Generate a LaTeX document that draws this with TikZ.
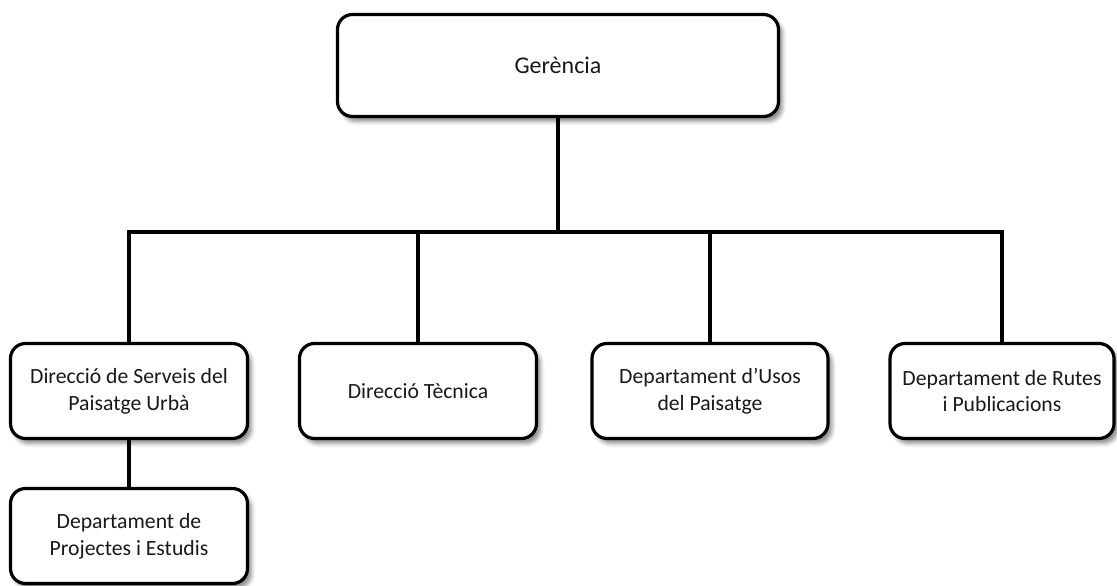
\documentclass[tikz,border=0pt]{standalone}
\usepackage{fontspec}
\setmainfont{Carlito}
\usetikzlibrary{shadows.blur}
\tikzset{
  orgbox/.style={draw=black, line width=3.2pt, fill=white, rounded corners=15pt,
    align=center, inner sep=0pt, text=black!90,
    font=\fontsize{21.7}{26.7}\selectfont,
    blur shadow={shadow xshift=4pt, shadow yshift=-5pt, shadow blur radius=4pt, shadow opacity=45}},
  link/.style={draw=black, line width=3.1pt}
}
\begin{document}
\begin{tikzpicture}[x=1pt,y=-1pt]
\useasboundingbox (0,0) rectangle (1117,586);
\node[orgbox, minimum width=441pt, minimum height=102pt, font=\fontsize{24}{29}\selectfont] (ger) at (558,65.5) {Gerència};
\node[orgbox, minimum width=237pt, minimum height=95pt] (b1) at (129,391) {Direcció de Serveis del\\Paisatge Urbà};
\node[orgbox, minimum width=237pt, minimum height=95pt] (b2) at (418,391) {Direcció Tècnica};
\node[orgbox, minimum width=236pt, minimum height=95pt] (b3) at (710,391) {Departament d’Usos\\del Paisatge};
\node[orgbox, minimum width=224pt, minimum height=95pt] (b4) at (1002,391) {Departament de Rutes\\i Publicacions};
\node[orgbox, minimum width=237pt, minimum height=95pt] (b5) at (129,536) {Departament de\\Projectes i Estudis};
\coordinate (bus) at (558,232);
\draw[link] (ger.south) -- (bus);
\draw[link] (b1.north) |- (bus);
\draw[link] (bus) -| (b4.north);
\draw[link] (b2.north) -- (b2.north |- bus);
\draw[link] (b3.north) -- (b3.north |- bus);
\draw[link] (b1.south) -- (b5.north);
\end{tikzpicture}
\end{document}
